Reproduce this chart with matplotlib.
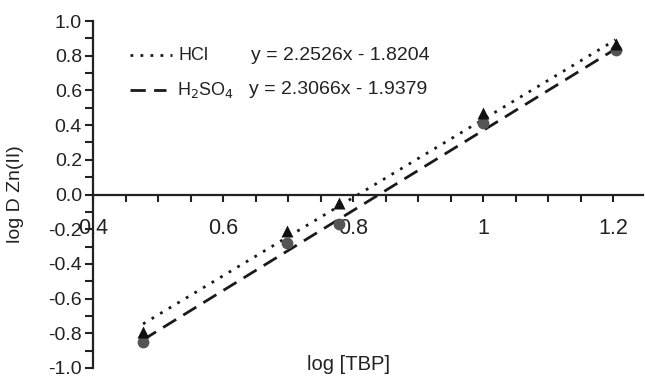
import matplotlib
matplotlib.use("Agg")
import matplotlib.pyplot as plt
import numpy as np
from matplotlib.ticker import MultipleLocator, FixedLocator

plt.rcParams['font.family'] = ['Liberation Sans', 'DejaVu Sans']

# Data
log_tbp = [0.477, 0.699, 0.778, 1.0, 1.204]
hcl_logD = [-0.79, -0.21, -0.05, 0.47, 0.87]
h2so4_logD = [-0.85, -0.28, -0.17, 0.41, 0.83]
hcl_fit = (2.2526, -1.8204)
h2so4_fit = (2.3066, -1.9379)
hcl_eq = "y = 2.2526x - 1.8204"
h2so4_eq = "y = 2.3066x - 1.9379"
x_ticks = [0.4, 0.6, 0.8, 1.0, 1.2]
x_ticklabels = ["0.4", "0.6", "0.8", "1", "1.2"]
y_ticks = [-1.0, -0.8, -0.6, -0.4, -0.2, 0.0, 0.2, 0.4, 0.6, 0.8, 1.0]

W, H = 645, 376
fig = plt.figure(figsize=(W/100, H/100), dpi=100)
left, right, top, bottom = 93, 643, 21, 368
ax = fig.add_axes([left/W, 1-bottom/H, (right-left)/W, (bottom-top)/H])

ax.set_xlim(0.4, 0.4 + (right-left)/650)
ax.set_ylim(-1.0, 1.0)

txtc = '#222222'
xs = np.array([log_tbp[0], log_tbp[-1]])
ax.plot(xs, hcl_fit[0]*xs + hcl_fit[1], color='#1a1a1a', lw=2.0,
        linestyle=(0, (1.0, 2.6)), zorder=2)
ax.plot(xs, h2so4_fit[0]*xs + h2so4_fit[1], color='#1a1a1a', lw=2.0,
        linestyle=(0, (5.5, 3.0)), zorder=2)

ax.plot(log_tbp, h2so4_logD, 'o', color='#555555', ms=8.5, mec='none', zorder=3)
ax.plot(log_tbp, hcl_logD, '^', color='#111111', ms=9, mec='none', zorder=4)

for s in ['top', 'right']:
    ax.spines[s].set_visible(False)
ax.spines['bottom'].set_position(('data', 0))
for s in ['left', 'bottom']:
    ax.spines[s].set_linewidth(1.6)
    ax.spines[s].set_color(txtc)

ax.xaxis.set_major_locator(FixedLocator(x_ticks))
ax.set_xticklabels(x_ticklabels)
ax.xaxis.set_minor_locator(MultipleLocator(0.05))
ax.yaxis.set_major_locator(FixedLocator(y_ticks))
ax.set_yticklabels([f"{v:.1f}" for v in y_ticks])
ax.yaxis.set_minor_locator(MultipleLocator(0.1))

ax.tick_params(axis='x', which='both', direction='out', length=5, width=1.5,
               colors=txtc, labelsize=15.5, pad=12, labelcolor=txtc)
ax.tick_params(axis='y', which='both', direction='out', length=6, width=1.5,
               colors=txtc, labelsize=14, pad=2, labelcolor=txtc)

ax.set_ylabel("log D Zn(II)", fontsize=14, color=txtc)
ax.yaxis.set_label_coords(-0.125, 0.5)
fig.text(348/W, 1-364/H, "log [TBP]", fontsize=14.5, color=txtc,
         ha='center', va='center')

# Legend drawn manually in figure pixels
def fx(px):
    return px / W
def fy(py):
    return 1 - py / H

fig.add_artist(plt.Line2D([fx(130), fx(172)], [fy(55), fy(55)], color='#1a1a1a',
                          lw=2.0, linestyle=(0, (1.0, 2.6))))
fig.add_artist(plt.Line2D([fx(130), fx(166)], [fy(90), fy(90)], color='#1a1a1a',
                          lw=2.0, linestyle=(0, (5.5, 3.0))))
fig.text(fx(178), fy(55), "HCl", fontsize=13, va='center', color=txtc)
fig.text(fx(177), fy(90), "H$_2$SO$_4$", fontsize=13, va='center', color=txtc)
fig.text(fx(251), fy(55), hcl_eq, fontsize=14, va='center', color=txtc)
fig.text(fx(249), fy(90), h2so4_eq, fontsize=14, va='center', color=txtc)

fig.savefig("out.png", dpi=100)
